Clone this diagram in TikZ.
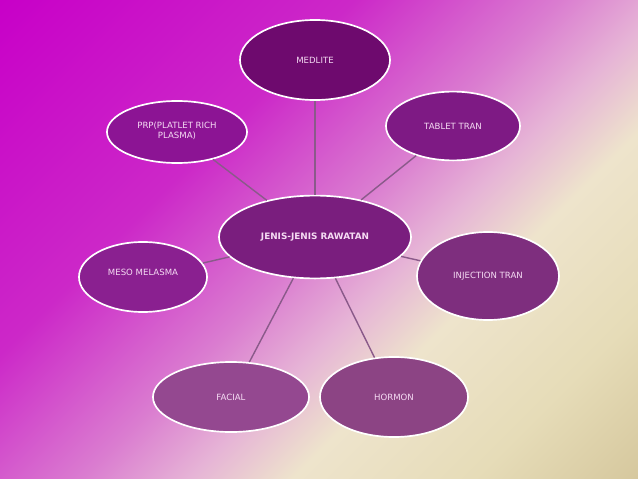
\documentclass[tikz,border=0pt]{standalone}
\usepackage{fontspec}
\setmainfont{DejaVu Sans}
\usepackage{tikz}
\usetikzlibrary{shapes.geometric}

\definecolor{bgA}{HTML}{C800C8}
\definecolor{bgB}{HTML}{CC28C8}
\definecolor{bgC}{HTML}{DA7CD0}
\definecolor{bgD}{HTML}{E6B4D6}
\definecolor{bgE}{HTML}{EEE4CC}
\definecolor{bgF}{HTML}{E6DCB8}
\definecolor{bgG}{HTML}{D6C89E}
\definecolor{linkcol}{HTML}{8A5A8A}
\definecolor{txtcol}{HTML}{F6DCF4}

\pgfdeclarehorizontalshading{backshade}{100bp}{color(0bp)=(bgA); color(14.6bp)=(bgA);
  color(37bp)=(bgB); color(50bp)=(bgC); color(57bp)=(bgD); color(63.5bp)=(bgE);
  color(75bp)=(bgF); color(85.4bp)=(bgG); color(100bp)=(bgG)}

\tikzset{
  bubble/.style={ellipse, draw=white, line width=1.2pt, inner sep=0pt,
    text=txtcol, align=center, font=\fontsize{6.1}{7.2}\selectfont},
  link/.style={draw=linkcol, line width=1pt}
}

\begin{document}
\begin{tikzpicture}[x=0.025cm, y=-0.025cm]
        \useasboundingbox (0,0) rectangle (638,479);
        \shade[shading=backshade, shading angle=-45] (0,0) rectangle (638,479);

        \node[bubble, fill={rgb,255:red,110;green,10;blue,110}, minimum width=3.75cm, minimum height=2cm] (medlite) at (315,60) {MEDLITE};
        \node[bubble, fill={rgb,255:red,140;green,20;blue,148}, minimum width=3.5cm, minimum height=1.55cm] (prp) at (177,132) {\raisebox{6pt}{\begin{tabular}{@{}c@{}}PRP(PLATLET RICH\\PLASMA)\end{tabular}}};
        \node[bubble, fill={rgb,255:red,126;green,26;blue,132}, minimum width=3.35cm, minimum height=1.72cm] (tablet) at (453,126) {TABLET TRAN};
        \node[bubble, fill={rgb,255:red,122;green,30;blue,126}, minimum width=4.8cm, minimum height=2.07cm, font=\fontsize{6.3}{7.2}\selectfont\bfseries] (rawatan) at (315,237) {JENIS-JENIS RAWATAN};
        \node[bubble, fill={rgb,255:red,138;green,32;blue,144}, minimum width=3.2cm, minimum height=1.75cm] (meso) at (143,277) {\raisebox{7pt}{MESO MELASMA}};
        \node[bubble, fill={rgb,255:red,126;green,46;blue,126}, minimum width=3.55cm, minimum height=2.2cm] (injection) at (488,276) {INJECTION TRAN};
        \node[bubble, fill={rgb,255:red,148;green,72;blue,144}, minimum width=3.9cm, minimum height=1.75cm] (facial) at (231,397) {FACIAL};
        \node[bubble, fill={rgb,255:red,140;green,68;blue,132}, minimum width=3.7cm, minimum height=2cm] (hormon) at (394,397) {HORMON};

        \foreach \n in {medlite, prp, tablet, meso, injection, facial, hormon} {
            \draw[link] (rawatan) -- (\n);
        }

    \end{tikzpicture}
\end{document}
